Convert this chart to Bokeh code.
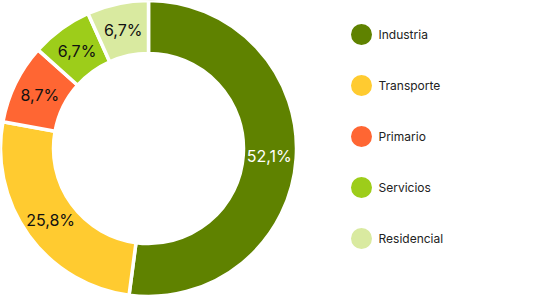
import math
from bokeh.plotting import figure
from bokeh.models import ColumnDataSource, Range1d
from bokeh.core.properties import value
from bokeh.embed import file_html
from bokeh.resources import INLINE

categories = ["Industria", "Transporte", "Primario", "Servicios", "Residencial"]
values = [52.1, 25.8, 8.7, 6.7, 6.7]
labels = ["52,1%", "25,8%", "8,7%", "6,7%", "6,7%"]
colors = ["#5f8200", "#ffcb30", "#ff6633", "#9dcd1a", "#d9eaa0"]
label_colors = ["#ffffff", "#111111", "#111111", "#111111", "#111111"]

W, H = 543, 297
cx, cy = 148, H - 148
r_in, r_out = 95, 148
r_lab = 121

total = sum(values)
starts, ends, lx, ly = [], [], [], []
cum = 0.0
for v in values:
    a0 = math.pi / 2 - 2 * math.pi * cum / total
    cum += v
    a1 = math.pi / 2 - 2 * math.pi * cum / total
    starts.append(a0)
    ends.append(a1)
    mid = (a0 + a1) / 2
    lx.append(cx + r_lab * math.cos(mid))
    ly.append(cy + r_lab * math.sin(mid))

src = ColumnDataSource(dict(cat=categories, val=values, start=starts, end=ends,
                            color=colors, lx=lx, ly=ly, lab=labels, lc=label_colors))

p = figure(width=W, height=H, output_backend="svg", toolbar_location=None,
           x_range=Range1d(0, W), y_range=Range1d(0, H), min_border=0)
p.axis.visible = False
p.grid.visible = False
p.outline_line_color = None
p.background_fill_color = "white"

p.annular_wedge(x=cx, y=cy, inner_radius=r_in, outer_radius=r_out,
                start_angle="start", end_angle="end", direction="clock",
                fill_color="color", line_color="white", line_width=3.5,
                line_join="round", source=src)

p.text(x="lx", y="ly", text="lab", text_color="lc", text_align="center",
       text_baseline="middle", text_font=value("Inter"), text_font_size="16px",
       source=src)

# legend
leg_x = 361
leg_y0 = H - 34
leg_step = 51
leg_ys = [leg_y0 - i * leg_step for i in range(len(categories))]
leg_src = ColumnDataSource(dict(x=[leg_x] * len(categories), y=leg_ys,
                                tx=[leg_x + 17] * len(categories),
                                cat=categories, color=colors))
p.scatter(x="x", y="y", size=21, marker="circle", fill_color="color",
          line_color=None, source=leg_src)
p.text(x="tx", y="y", text="cat", text_color="#222222", text_align="left",
       text_baseline="middle", text_font=value("Inter"), text_font_size="12px",
       source=leg_src)

open("out.html", "w").write(file_html(p, INLINE))
